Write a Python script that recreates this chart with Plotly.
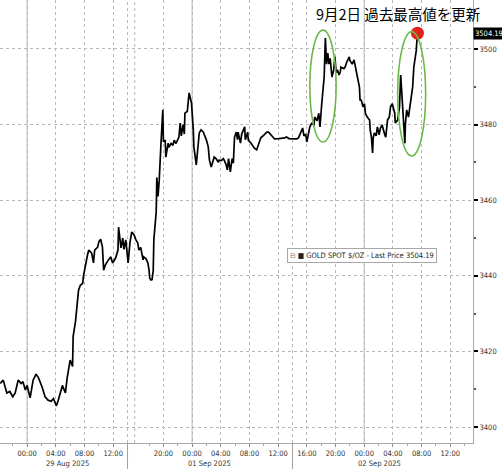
import plotly.graph_objects as go

# ---- data (GOLD SPOT $/OZ, intraday) ----
aug28_t = ["20:15", "20:40", "21:10", "21:35", "22:00", "22:20", "22:45", "23:10", "23:25", "23:45"]
aug28_p = [3411.5, 3412.4, 3409.0, 3409.4, 3408.0, 3409.0, 3412.4, 3411.5, 3412.0, 3409.8]

aug29_t = ["00:00", "00:25", "00:50", "01:15", "01:35", "02:05", "02:30", "02:55", "03:20", "03:40",
           "04:05", "04:20", "04:55", "05:20", "05:35", "06:00", "06:20", "06:25", "06:45", "07:00",
           "07:10", "07:25", "07:45", "07:50", "08:10", "08:25", "08:35", "09:00", "09:15", "09:25",
           "09:50", "10:00", "10:15", "10:30", "10:40", "10:55", "11:20", "11:40", "11:55", "12:05",
           "12:20", "12:40", "12:45", "13:05", "13:20", "13:30", "13:45"]
aug29_p = [3411.0, 3407.7, 3412.4, 3414.0, 3413.0, 3410.6, 3408.0, 3407.1, 3406.8, 3407.5,
           3405.6, 3407.0, 3411.0, 3409.0, 3413.0, 3417.7, 3416.0, 3424.0, 3428.0, 3432.8,
           3436.2, 3437.5, 3438.0, 3439.7, 3443.4, 3445.5, 3446.8, 3446.0, 3443.4, 3446.8,
           3447.6, 3449.0, 3449.7, 3447.6, 3441.5, 3442.9, 3444.2, 3445.0, 3443.4, 3444.0,
           3444.7, 3446.8, 3452.9, 3447.4, 3450.0, 3447.0, 3449.5]

aug31_t = ["15:05", "15:20", "15:35", "15:55", "16:10", "16:25", "16:35", "16:50", "17:10", "17:15",
           "17:35", "17:50", "18:00", "18:05", "18:15", "18:25", "18:35", "18:40", "19:00", "19:05",
           "19:15", "19:25", "19:40", "19:55", "20:00", "20:15", "20:20", "20:40", "20:45", "21:05",
           "21:20", "21:30", "21:45", "22:05", "22:10", "22:20", "22:30", "22:45", "22:55", "23:00",
           "23:20", "23:35", "23:55"]
aug31_p = [3443.4, 3448.7, 3451.6, 3450.8, 3449.5, 3448.7, 3446.8, 3447.5, 3444.2, 3445.0,
           3444.5, 3443.4, 3441.5, 3439.4, 3438.9, 3439.0, 3441.5, 3449.5, 3457.0, 3466.0,
           3461.0, 3465.3, 3475.1, 3483.9, 3475.5, 3475.9, 3471.4, 3475.1, 3474.0, 3475.0,
           3474.5, 3475.9, 3475.0, 3476.5, 3476.7, 3480.4, 3477.0, 3480.0, 3477.5, 3483.0,
           3483.5, 3488.4, 3485.7]

sep01_t = ["00:10", "00:15", "00:35", "00:50", "01:00", "01:15", "01:35", "01:40", "02:00", "02:15",
           "02:25", "02:40", "02:55", "03:05", "03:20", "03:40", "03:45", "04:05", "04:20", "04:30",
           "04:45", "04:55", "05:05", "05:20", "05:35", "05:45", "05:55", "06:10", "06:20", "06:25",
           "06:45", "06:55", "07:20", "07:25", "07:45", "07:50", "08:15", "08:40", "09:00", "09:15",
           "09:35", "10:00", "10:25", "10:40", "10:55", "11:20", "11:30", "12:05", "12:30", "12:55",
           "13:10", "13:30", "14:10", "14:35", "14:50", "15:10", "15:25", "15:35", "15:50", "16:00",
           "16:15", "16:25", "16:40", "17:00", "17:05", "17:25", "17:40", "17:50", "18:05", "18:25",
           "18:30", "18:35", "18:45", "18:55", "19:05", "19:15", "19:30", "19:45", "19:55", "20:05",
           "20:15", "20:30", "20:40", "20:45", "21:10", "21:20", "21:35", "21:55", "22:00", "22:20",
           "22:35", "22:45", "23:00", "23:20", "23:25", "23:35", "23:50"]
sep01_p = [3478.6, 3474.1, 3469.3, 3474.1, 3477.8, 3478.6, 3478.0, 3477.5, 3475.9, 3474.1,
           3470.6, 3468.8, 3470.5, 3471.4, 3471.0, 3470.0, 3470.6, 3470.5, 3471.0, 3470.5,
           3469.3, 3468.0, 3471.0, 3467.5, 3471.0, 3469.8, 3476.7, 3478.0, 3476.0, 3478.0,
           3475.1, 3477.5, 3479.4, 3476.0, 3478.0, 3475.9, 3475.0, 3473.8, 3473.3, 3474.5,
           3476.5, 3477.2, 3478.0, 3478.0, 3477.5, 3476.8, 3476.2, 3476.3, 3476.3, 3476.5,
           3476.7, 3476.3, 3476.2, 3476.2, 3476.5, 3477.8, 3479.1, 3477.0, 3477.5, 3475.4,
           3478.0, 3479.4, 3480.3, 3480.0, 3482.0, 3481.0, 3483.0, 3479.4, 3485.7, 3492.6,
           3497.9, 3502.9, 3496.0, 3498.9, 3496.0, 3497.5, 3492.6, 3494.5, 3497.9, 3493.7,
           3494.5, 3493.1, 3494.0, 3495.2, 3494.8, 3495.2, 3496.6, 3497.9, 3497.0, 3496.0,
           3497.1, 3495.0, 3493.1, 3489.9, 3486.5, 3486.5, 3484.7]

sep02_t = ["00:02", "00:10", "00:25", "00:45", "00:50", "01:00", "01:10", "01:15", "01:25", "01:40",
           "01:50", "02:05", "02:15", "02:30", "02:50", "03:00", "03:15", "03:30", "03:40", "03:55",
           "04:15", "04:20", "04:40", "04:55", "05:05", "05:20", "05:40", "05:45", "05:55", "06:10",
           "06:20", "06:30", "06:45", "06:55", "07:10", "07:15", "07:25"]
sep02_p = [3485.5, 3483.0, 3482.0, 3481.2, 3478.6, 3476.7, 3472.5, 3476.5, 3477.8, 3477.0,
           3479.4, 3477.3, 3479.0, 3479.9, 3477.5, 3476.7, 3481.2, 3482.0, 3484.7, 3485.5,
           3483.0, 3480.4, 3481.2, 3484.7, 3493.1, 3485.5, 3475.1, 3480.4, 3483.9, 3482.0,
           3484.0, 3486.5, 3489.9, 3495.2, 3498.9, 3499.5, 3504.19]

x_tick_vals = ["2025-08-29 00:00", "2025-08-29 04:00", "2025-08-29 08:00", "2025-08-29 12:00",
               "2025-08-31 20:00", "2025-09-01 00:00", "2025-09-01 04:00", "2025-09-01 08:00",
               "2025-09-01 12:00", "2025-09-01 16:00", "2025-09-01 20:00", "2025-09-02 00:00",
               "2025-09-02 04:00", "2025-09-02 08:00", "2025-09-02 12:00"]
x_tick_text = ["00:00", "04:00", "08:00", "12:00", "20:00", "00:00", "04:00", "08:00",
               "12:00", "16:00", "20:00", "00:00", "04:00", "08:00", "12:00"]
date_labels = ["29 Aug 2025", "01 Sep 2025", "02 Sep 2025"]
date_label_pos = ["2025-08-29 05:40", "2025-09-01 02:25", "2025-09-02 02:05"]
midnights = ["2025-08-29 00:00", "2025-09-01 00:00", "2025-09-02 00:00"]
session_breaks = ["2025-08-31 15:00", "2025-09-01 14:00"]
extra_grid = ["2025-08-31 15:00", "2025-08-31 16:00", "2025-09-01 14:00"]
minor_ticks = ["2025-08-28 22:00", "2025-08-29 02:00", "2025-08-29 06:00", "2025-08-29 10:00",
               "2025-08-31 18:00", "2025-08-31 22:00", "2025-09-01 02:00", "2025-09-01 06:00",
               "2025-09-01 10:00", "2025-09-01 14:00", "2025-09-01 18:00", "2025-09-01 22:00",
               "2025-09-02 02:00", "2025-09-02 06:00", "2025-09-02 10:00", "2025-09-02 14:00"]

title_text = "9月2日 過去最高値を更新"
legend_text = "GOLD SPOT $/OZ - Last Price 3504.19"
last_label = "3504.19"

# ---- build ----
times = ([f"2025-08-28 {t}" for t in aug28_t] + [f"2025-08-29 {t}" for t in aug29_t] +
         [f"2025-08-31 {t}" for t in aug31_t] + [f"2025-09-01 {t}" for t in sep01_t] +
         [f"2025-09-02 {t}" for t in sep02_t])
prices = aug28_p + aug29_p + aug31_p + sep01_p + sep02_p

NARROW = "Liberation Sans Narrow, DejaVu Sans Condensed, Arial Narrow, Liberation Sans, sans-serif"
GRID = "#b8b8b8"

fig = go.Figure()
fig.add_trace(go.Scatter(x=times, y=prices, mode="lines",
                         line=dict(color="black", width=1.7), hoverinfo="skip", showlegend=False))
fig.add_trace(go.Scatter(x=[times[-1]], y=[prices[-1]], mode="markers",
                         marker=dict(color="#e3231b", size=13), hoverinfo="skip", showlegend=False))

shapes = []
for m in midnights:
    shapes.append(dict(type="line", xref="x", yref="paper", x0=m, x1=m, y0=0, y1=1,
                       line=dict(color="#c4c4c4", width=1.2), layer="below"))
for g in extra_grid:
    shapes.append(dict(type="line", xref="x", yref="paper", x0=g, x1=g, y0=0, y1=1,
                       line=dict(color=GRID, width=1, dash="dot"), layer="below"))
for s in session_breaks:
    shapes.append(dict(type="line", xref="x", yref="paper", x0=s, x1=s, y0=-0.06, y1=0,
                       line=dict(color="#a0a0a0", width=1)))
# highlight ellipses
shapes.append(dict(type="circle", xref="x", yref="y", x0="2025-09-01 16:25", x1="2025-09-01 20:05",
                   y0=3475.4, y1=3505.0, line=dict(color="#6db84a", width=1.6)))
shapes.append(dict(type="circle", xref="x", yref="y", x0="2025-09-02 04:40", x1="2025-09-02 08:34",
                   y0=3471.7, y1=3504.6, line=dict(color="#6db84a", width=1.6)))

annotations = [
    dict(text=title_text, xref="paper", yref="paper", x=314 / 473, y=1 - 13.5 / 443,
         xanchor="left", yanchor="middle", showarrow=False,
         font=dict(family="Noto Sans CJK JP", size=14.5, color="black")),
    dict(text="<span style='color:#888'>⊟</span> ■ " + legend_text, xref="paper", yref="y",
         x=362 / 473, y=3445.4, xanchor="center", yanchor="middle", showarrow=False,
         bgcolor="white", bordercolor="#a8a8a8", borderwidth=1, borderpad=2,
         font=dict(family=NARROW, size=7.5, color="#222")),
    dict(text=last_label, xref="paper", yref="y", x=1, y=prices[-1], xanchor="left",
         yanchor="middle", showarrow=False, bgcolor="black", borderpad=1,
         font=dict(family=NARROW, size=7.5, color="white")),
]
for lab, pos in zip(date_labels, date_label_pos):
    annotations.append(dict(text=lab, xref="x", yref="paper", x=pos, y=0, yshift=-20,
                            xanchor="center", yanchor="middle", showarrow=False,
                            font=dict(family=NARROW, size=7.5, color="#333")))

fig.update_layout(
    width=502, height=469,
    margin=dict(l=0, r=29, t=0, b=26),
    paper_bgcolor="white", plot_bgcolor="white",
    shapes=shapes, annotations=annotations,
    showlegend=False,
    xaxis=dict(
        type="date",
        range=["2025-08-28 20:13", "2025-09-02 15:10"],
        rangebreaks=[dict(bounds=["2025-08-29 14:00", "2025-08-31 15:00"])],
        tickmode="array", tickvals=x_tick_vals, ticktext=x_tick_text,
        ticks="outside", ticklen=3, tickcolor="#888",
        minor=dict(tickmode="array", tickvals=minor_ticks, ticks="outside", ticklen=2, tickcolor="#aaa"),
        showgrid=True, gridcolor=GRID, griddash="dot", gridwidth=1,
        showline=True, linecolor="#a8a8a8", mirror=True,
        tickfont=dict(family=NARROW, size=7.5, color="#333"),
        zeroline=False, fixedrange=True,
    ),
    yaxis=dict(
        side="right",
        range=[3395.77, 3512.96],
        tick0=3400, dtick=20,
        ticks="outside", ticklen=4, tickwidth=1.5, tickcolor="black",
        minor=dict(dtick=10, ticks="outside", ticklen=2, tickcolor="#555"),
        showgrid=True, gridcolor=GRID, griddash="dot", gridwidth=1,
        showline=True, linecolor="#a8a8a8", mirror=True,
        tickfont=dict(family=NARROW, size=7.5, color="#333"),
        zeroline=False, fixedrange=True,
    ),
)

fig.write_html("out.html", config={"displayModeBar": False},
               post_script="document.body.style.margin='0';document.body.style.overflow='hidden';")
